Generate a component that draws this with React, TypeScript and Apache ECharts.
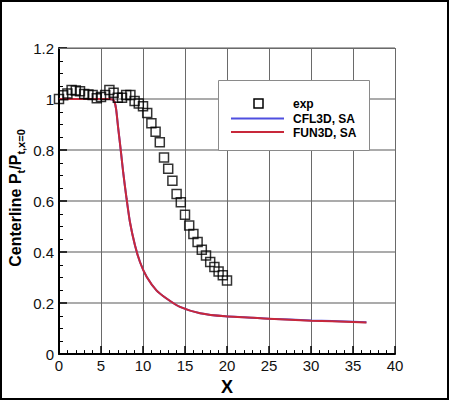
import React, { useEffect, useRef } from "react";
import * as echarts from "echarts";

// ---- data ----
const expX = [0, 0.5, 1, 1.5, 2, 2.5, 3, 3.5, 4, 4.5, 5, 5.5, 6, 6.5, 7, 7.5, 8, 8.5, 9, 9.5, 10, 10.5, 11, 11.5, 12, 12.5, 13, 13.5, 14, 14.5, 15, 15.5, 16, 16.5, 17, 17.5, 18, 18.5, 19, 19.5, 20];
const expY = [1.0, 1.015, 1.022, 1.035, 1.033, 1.03, 1.02, 1.018, 1.016, 1.003, 1.008, 1.016, 1.035, 1.025, 1.005, 1.005, 1.016, 1.016, 0.992, 0.982, 0.972, 0.945, 0.905, 0.872, 0.831, 0.771, 0.727, 0.68, 0.628, 0.595, 0.546, 0.504, 0.471, 0.439, 0.409, 0.387, 0.361, 0.341, 0.324, 0.309, 0.289];

const fun3dX = [0, 2, 4, 6, 6.4, 6.6, 6.8, 7.05, 7.35, 7.65, 8.05, 8.45, 9.05, 9.65, 10.45, 11.6, 12.8, 14.4, 16.8, 19.8, 25, 30, 35, 36.6];
const fun3dY = [1.0, 1.0, 1.0, 1.0, 0.998, 0.99, 0.96, 0.885, 0.8, 0.71, 0.608, 0.517, 0.426, 0.36, 0.302, 0.25, 0.218, 0.185, 0.16, 0.148, 0.139, 0.131, 0.126, 0.124];

const cfl3dX = [0, 2, 4, 6, 6.4, 6.6, 6.8, 7.05, 7.35, 7.65, 8.05, 8.45, 9.05, 9.65, 10.45, 11.6, 12.8, 14.4, 16.8, 19.8, 25, 30, 35, 36.6];
const cfl3dY = [1.0, 1.0, 1.0, 1.0, 0.998, 0.99, 0.96, 0.885, 0.8, 0.71, 0.608, 0.517, 0.426, 0.36, 0.302, 0.25, 0.218, 0.185, 0.16, 0.148, 0.139, 0.132, 0.127, 0.125];

const xTicks = [0, 5, 10, 15, 20, 25, 30, 35, 40];
const yTicks = [0, 0.2, 0.4, 0.6, 0.8, 1.0, 1.2];

const seriesNames = ["exp", "CFL3D, SA", "FUN3D, SA"];
const yNameParts = [
  { text: "Centerline P", sub: false },
  { text: "t", sub: true },
  { text: "/P", sub: false },
  { text: "t,x=0", sub: true },
];

const FONT = "'Liberation Sans', Arial, Helvetica, sans-serif";
const BLUE = "#4f4fe0";
const RED = "#c8283a";

function measure(text: string, font: string): number {
  const c = document.createElement("canvas").getContext("2d");
  if (!c) return text.length * 8;
  c.font = font;
  return c.measureText(text).width;
}

export default function App() {
  const ref = useRef<HTMLDivElement>(null);

  useEffect(() => {
    document.body.style.margin = "0";
    if (!ref.current) return;
    const chart = echarts.init(ref.current, undefined, { renderer: "svg" });

    const bigFont = `bold 16px ${FONT}`;
    const subFont = `bold 11px ${FONT}`;
    const widths = yNameParts.map((p) => measure(p.text, p.sub ? subFont : bigFont));
    const total = widths.reduce((a, b) => a + b, 0);
    let off = 0;
    const yNameChildren = yNameParts.map((p, i) => {
      const el = {
        type: "text",
        x: off,
        y: p.sub ? 6 : 0,
        z: 100,
        style: {
          text: p.text,
          font: p.sub ? subFont : bigFont,
          fill: "#000",
          textAlign: "left",
          textVerticalAlign: "middle",
          align: "left",
          verticalAlign: "middle",
        },
      };
      off += widths[i];
      return el;
    });

    const legendFont = `bold 12px ${FONT}`;
    const legendText = (text: string, y: number) => ({
      type: "text",
      x: 293,
      y,
      z: 102,
      style: { text, font: legendFont, fill: "#000", textVerticalAlign: "middle", verticalAlign: "middle" },
    });

    chart.setOption({
      animation: false,
      backgroundColor: "#fff",
      grid: { left: 59, top: 48, right: 55, bottom: 45, containLabel: false },
      xAxis: [
        {
          type: "value",
          min: xTicks[0],
          max: xTicks[xTicks.length - 1],
          interval: xTicks[1] - xTicks[0],
          name: "X",
          nameLocation: "middle",
          nameGap: 16,
          nameTextStyle: { fontFamily: FONT, fontWeight: "bold", fontSize: 18, color: "#000" },
          axisLine: { show: true, onZero: false, lineStyle: { color: "#000", width: 2 } },
          axisTick: { show: true, inside: true, length: 8, lineStyle: { color: "#000", width: 1.5 } },
          minorTick: { show: true, splitNumber: 5, length: 4, lineStyle: { color: "#000", width: 1 } },
          axisLabel: { fontFamily: FONT, fontSize: 15, color: "#111", margin: 4 },
          splitLine: { show: true, lineStyle: { color: "#6a6a6a", width: 1 } },
        },
        {
          type: "value",
          position: "top",
          min: xTicks[0],
          max: xTicks[xTicks.length - 1],
          interval: xTicks[1] - xTicks[0],
          z: 10,
          axisLine: { show: true, onZero: false, lineStyle: { color: "#6a6a6a", width: 1 } },
          axisTick: { show: false },
          axisLabel: { show: false },
          splitLine: { show: false },
        },
      ],
      yAxis: [
        {
          type: "value",
          min: yTicks[0],
          max: yTicks[yTicks.length - 1],
          interval: 0.2,
          axisLine: { show: true, onZero: false, lineStyle: { color: "#000", width: 2 } },
          axisTick: { show: true, inside: true, length: 8, lineStyle: { color: "#000", width: 1.5 } },
          minorTick: { show: true, splitNumber: 4, length: 4, lineStyle: { color: "#000", width: 1 } },
          axisLabel: { fontFamily: FONT, fontSize: 15, color: "#111", margin: 5 },
          splitLine: { show: true, lineStyle: { color: "#ababab", width: 2 } },
        },
      ],
      series: [
        {
          name: seriesNames[1],
          type: "line",
          data: cfl3dX.map((x, i) => [x, cfl3dY[i]]),
          showSymbol: false,
          symbol: "none",
          smooth: 0.2,
          lineStyle: { color: BLUE, width: 2 },
          z: 3,
        },
        {
          name: seriesNames[2],
          type: "line",
          data: fun3dX.map((x, i) => [x, fun3dY[i]]),
          showSymbol: false,
          symbol: "none",
          smooth: 0.2,
          lineStyle: { color: RED, width: 2 },
          z: 4,
        },
        {
          name: seriesNames[0],
          type: "scatter",
          data: expX.map((x, i) => [x, expY[i]]),
          symbol: "rect",
          symbolSize: 9,
          clip: false,
          itemStyle: { color: "rgba(0,0,0,0)", borderColor: "#000", borderWidth: 1.5 },
          z: 5,
        },
      ],
      graphic: [
        {
          type: "rect",
          shape: { x: 1, y: 1, width: 447, height: 398 },
          style: { fill: "none", stroke: "#000", lineWidth: 2 },
          z: 100,
          silent: true,
        },
        {
          type: "group",
          x: 15,
          y: 198 + total / 2,
          rotation: Math.PI / 2,
          children: yNameChildren,
        },
        {
          type: "rect",
          z: 100,
          shape: { x: 218.5, y: 80.5, width: 151, height: 70 },
          style: { fill: "#ffffff", stroke: "#8a8a8a", lineWidth: 1 },
        },
        {
          type: "rect",
          z: 101,
          shape: { x: 254, y: 99, width: 9, height: 9 },
          style: { fill: "none", stroke: "#000", lineWidth: 1.5 },
        },
        {
          type: "line",
          z: 101,
          shape: { x1: 231, y1: 118.5, x2: 284, y2: 118.5 },
          style: { stroke: BLUE, lineWidth: 2 },
        },
        {
          type: "line",
          z: 101,
          shape: { x1: 231, y1: 132, x2: 284, y2: 132 },
          style: { stroke: RED, lineWidth: 2 },
        },
        legendText(seriesNames[0], 103.5),
        legendText(seriesNames[1], 118.5),
        legendText(seriesNames[2], 132.5),
      ],
    });

    return () => chart.dispose();
  }, []);

  return <div ref={ref} style={{ width: 450, height: 401 }} />;
}
